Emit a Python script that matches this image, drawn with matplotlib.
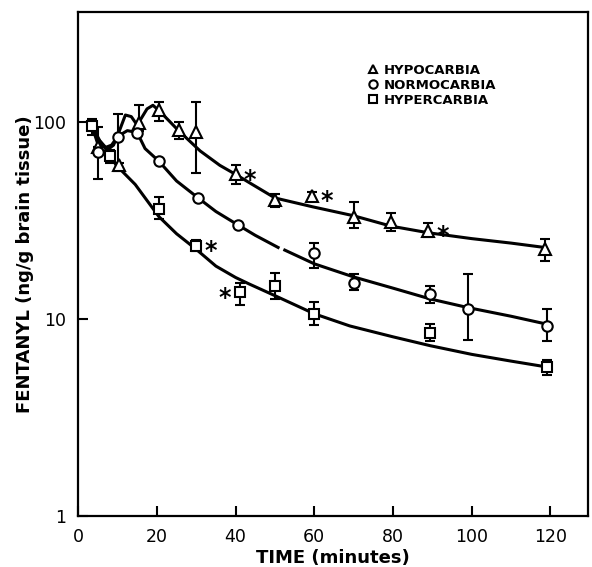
import numpy as np
import matplotlib
matplotlib.use("Agg")
import matplotlib.pyplot as plt
from matplotlib.lines import Line2D

# fentanyl in brain tissue, three CO2 groups

# hypocarbia points
hypo_t = [5, 10.5, 15.5, 20.5, 25.5, 30, 40, 50, 59.5, 70, 79.5, 89, 118.5]
hypo_v = [74, 60, 98, 114, 91, 89, 54, 40, 42, 33, 31, 28, 22.5]
hypo_lo = [74, 58, 90, 101, 82, 55, 48, 37, 40, 29, 28, 26, 19.7]
hypo_hi = [74, 62, 121, 126, 100, 125, 60, 43, 44, 39, 34.5, 30.5, 25.3]
hypo_star = [6, 8, 11]

# normocarbia points
normo_t = [5, 10, 15, 20.5, 30.5, 40.5, 60, 70, 89.5, 99, 119]
normo_v = [70, 84, 88, 63, 41, 30, 21.5, 15.2, 13.3, 11.2, 9.2]
normo_lo = [51, 56, 88, 63, 41, 30, 18.2, 14, 12, 7.8, 7.7]
normo_hi = [94, 109, 88, 63, 41, 30, 24.2, 16.9, 14.6, 16.9, 11.2]

# hypercarbia points
hyper_t = [3.5, 8, 20.5, 30, 41, 50, 60, 89.5, 119]
hyper_v = [95, 67, 36, 23.5, 13.6, 14.6, 10.6, 8.5, 5.7]
hyper_lo = [86, 62, 32, 22, 11.8, 12.6, 9.3, 7.7, 5.2]
hyper_hi = [103, 72, 41.5, 25, 15.2, 17.1, 12.2, 9.4, 6.2]
hyper_star_right = [3]
hyper_star_left = [4]

# hand drawn curves
hypo_curve_t = [3.5, 5.5, 7.5, 9, 10.5, 12, 13.5, 15, 17.5, 19, 20.5, 23.5, 25.5,
                31, 36, 40, 43.5, 50, 59.5, 70, 79.5, 89, 100, 110, 118.5]
hypo_curve_v = [95, 80, 72, 76, 90, 108, 106, 96, 116, 121, 114, 99, 90,
                71, 60, 54, 49, 41, 37, 33.3, 29.5, 27.3, 25.5, 24.2, 23]
normo_curve_t = [3.5, 5, 7, 8.5, 10, 12.5, 15, 17, 20.5, 25, 30.5, 35, 40.5,
                 45, 50.8, 51.6, 52.5, 60, 70, 80, 89.5, 99, 110, 119]
normo_curve_v = [95, 77, 74, 76, 84, 90, 88, 73, 63, 50, 41, 35, 30,
                 26.5, 23, np.nan, 22.3, 19, 16.3, 14.3, 12.6, 11.4, 10.3, 9.4]
hyper_curve_t = [3.5, 5, 6.5, 8, 9.7, 14.5, 20.5, 25, 30, 35, 40, 43.5, 50,
                 60, 69, 80, 89.5, 100, 110, 119]
hyper_curve_v = [95, 82, 75, 68, 60, 48, 33, 27, 22.5, 18.5, 16.2, 15, 13.1,
                 10.6, 9.2, 8.1, 7.3, 6.6, 6.1, 5.7]

font = "DejaVu Sans"
plt.rcParams["font.family"] = font

fig = plt.figure(figsize=(5.92, 5.67), dpi=100)
ax = fig.add_axes([0.132, 0.09, 0.861, 0.889])

lw = 2.2
ax.plot(hypo_curve_t, hypo_curve_v, color="black", lw=lw, zorder=2)
ax.plot(normo_curve_t, normo_curve_v, color="black", lw=lw, zorder=2)
ax.plot(hyper_curve_t, hyper_curve_v, color="black", lw=lw, zorder=2)


def draw_points(t, v, lo, hi, marker, ms):
    v = np.array(v)
    err = [v - np.array(lo), np.array(hi) - v]
    ax.errorbar(t, v, yerr=err, fmt=marker, ms=ms, mfc="white", mec="black",
                mew=1.5, ecolor="black", elinewidth=1.5, capsize=3.5,
                capthick=1.5, zorder=3)


draw_points(hypo_t, hypo_v, hypo_lo, hypo_hi, "^", 8)
draw_points(normo_t, normo_v, normo_lo, normo_hi, "o", 7.5)
draw_points(hyper_t, hyper_v, hyper_lo, hyper_hi, "s", 7.5)

# asterisks for significant points
for i in hypo_star:
    ax.annotate("*", (hypo_t[i], hypo_v[i]), xytext=(6, -4), textcoords="offset points",
                fontsize=17, fontweight="bold", ha="left", va="center")
for i in hyper_star_right:
    ax.annotate("*", (hyper_t[i], hyper_v[i]), xytext=(6, -4), textcoords="offset points",
                fontsize=17, fontweight="bold", ha="left", va="center")
for i in hyper_star_left:
    ax.annotate("*", (hyper_t[i], hyper_v[i]), xytext=(-6, -4), textcoords="offset points",
                fontsize=17, fontweight="bold", ha="right", va="center")

ax.set_yscale("log")
ax.set_xlim(0, 129.5)
ax.set_ylim(1, 360)
ax.set_xticks([0, 20, 40, 60, 80, 100, 120])
ax.set_yticks([1, 10, 100])
ax.set_yticklabels(["1", "10", "100"])
ax.yaxis.set_minor_locator(matplotlib.ticker.NullLocator())
ax.tick_params(direction="in", length=7, width=1.5, labelsize=12.5, pad=9)
for s in ax.spines.values():
    s.set_linewidth(1.6)

ax.set_xlabel("TIME (minutes)", fontsize=13, fontweight="bold", labelpad=2)
ax.set_ylabel("FENTANYL (ng/g brain tissue)", fontsize=13, fontweight="bold", labelpad=-1)

handles = [Line2D([], [], ls="none", marker=m, ms=6, mfc="white", mec="black", mew=1.5)
           for m in ["^", "o", "s"]]
ax.legend(handles, ["HYPOCARBIA", "NORMOCARBIA", "HYPERCARBIA"], loc="upper left",
          bbox_to_anchor=(0.555, 0.91), frameon=False, handlelength=0.8,
          handletextpad=0.4, labelspacing=0.15, borderpad=0,
          prop={"family": font, "weight": "bold", "size": 9.5})

fig.savefig("out.png", dpi=100)
